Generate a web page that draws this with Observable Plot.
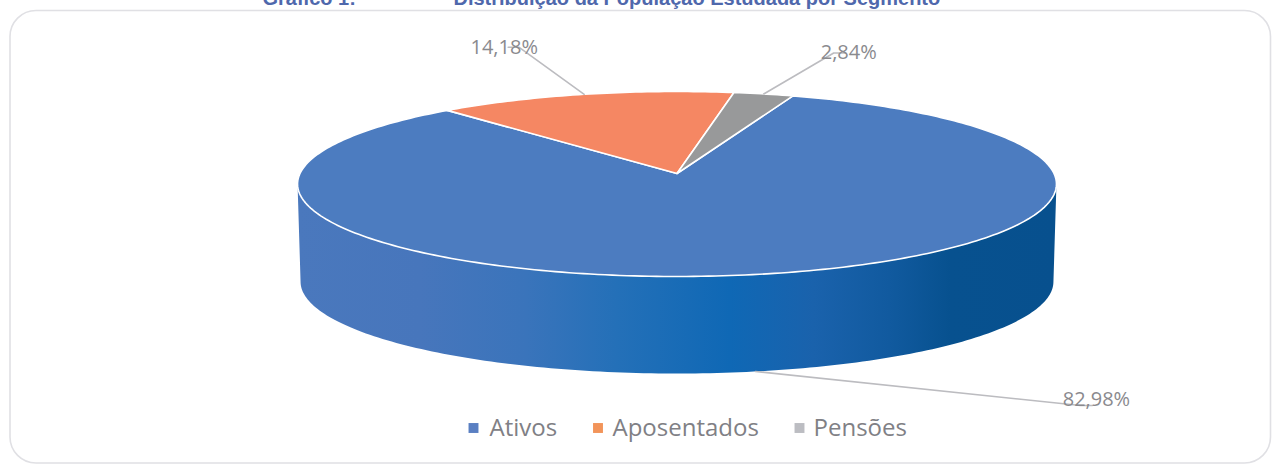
<!DOCTYPE html>
<html lang="pt">
<head>
<meta charset="utf-8">
<script src="https://cdn.jsdelivr.net/npm/d3@7"></script>
<script src="https://cdn.jsdelivr.net/npm/@observablehq/plot@0.6"></script>
<style>
html,body{margin:0;padding:0;background:#fff;overflow:hidden}
svg{display:block}
</style>
</head>
<body>
<div id="chart"></div>
<script>
// Data
const categories = ["Ativos", "Aposentados", "Pensões"];
const shares = [82.98, 14.18, 2.84];
const shareLabels = ["82,98%", "14,18%", "2,84%"];
const sliceColors = ["#4c7cc0", "#f58763", "#98999a"];
const legendColors = ["#5a7fc2", "#f2945a", "#bcbdc2"];
const titleParts = ["Gráfico 1:", "Distribuição da População Estudada por Segmento"];

// Layout of the tilted disc (chart units = pixels of the 1276x466 canvas)
const W = 1276, H = 466;
const startAngle = 19.9, persp = 0.1135;
const topDisc = {cx: 676.5, cy: 173, rx: 377, ry: 91.3};
const baseDisc = {cx: 676.5, cy: 270.8, rx: 374, ry: 90.6};

const rad = d => d * Math.PI / 180;
const project = (disc, deg) => {
  const u = Math.sin(rad(deg)), v = -Math.cos(rad(deg)), d = 1 - persp * v;
  return {x: disc.cx + disc.rx * u / d, y: disc.cy + disc.ry * v / d};
};

// Slices derived from the shares
let acc = startAngle;
const slices = categories.map((name, i) => {
  const a0 = acc, a1 = acc + shares[i] * 3.6;
  acc = a1;
  const n = Math.max(2, Math.ceil(a1 - a0));
  const arc = d3.range(n + 1).map(k => project(topDisc, a0 + (a1 - a0) * k / n));
  return {name, a0, a1, mid: (a0 + a1) / 2, color: sliceColors[i],
          poly: [{x: topDisc.cx, y: topDisc.cy}, ...arc]};
});

// Near wall of the disc, from tangent to tangent
const tangent = Math.acos(-persp) * 180 / Math.PI;
const wallAngles = d3.range(tangent, 360 - tangent + 0.5, 1);
const wall = [
  ...wallAngles.map(a => project(topDisc, a)),
  ...wallAngles.slice().reverse().map(a => project(baseDisc, a))
];

// Leader lines: anchored at each slice's mid angle, elbow and end as offsets
const leaderLayout = [
  {disc: baseDisc, elbow: [325, 34], end: [337, 34], label: [341, 28]},
  {disc: topDisc, elbow: [-65, -47], end: [-76, -47], label: [-80, -47]},
  {disc: topDisc, elbow: [70, -41], end: [82, -41], label: [85, -41]}
];
const leaders = slices.map((s, i) => {
  const p = project(leaderLayout[i].disc, s.mid), L = leaderLayout[i];
  return {i, p, pts: [p, {x: p.x + L.elbow[0], y: p.y + L.elbow[1]}, {x: p.x + L.end[0], y: p.y + L.end[1]}],
          tx: p.x + L.label[0], ty: p.y + L.label[1], anchor: L.label[0] < 0 ? "end" : "start"};
});

// Legend layout
const legendSwatchX = [473, 597.5, 799];
const legendTextX = [489, 612, 813];
const legendY = 428;

const wallStops = [
  [0, "#4a78bd"], [0.16, "#4776bc"], [0.3, "#3a74bb"], [0.42, "#2470b8"],
  [0.57, "#0f68b5"], [0.68, "#1a62ac"], [0.78, "#115a9f"], [0.86, "#07518f"], [1, "#07508e"]
];
const gradientMark = () => {
  const defs = d3.create("svg:defs");
  const g = defs.append("linearGradient").attr("id", "wallGrad")
    .attr("gradientUnits", "userSpaceOnUse")
    .attr("x1", 297).attr("x2", 1056).attr("y1", 0).attr("y2", 0);
  wallStops.forEach(([o, c]) => g.append("stop").attr("offset", o).attr("stop-color", c));
  return defs.node();
};

const sansLabel = "'Open Sans', sans-serif";

const chart = Plot.plot({
  width: W, height: H,
  margin: 0,
  x: {domain: [0, W], range: [0, W], axis: null},
  y: {domain: [0, H], range: [0, H], axis: null},
  style: {background: "#fff", overflow: "hidden"},
  marks: [
    gradientMark,
    Plot.frame({insetLeft: 9.5, insetTop: 10, insetRight: 6, insetBottom: 3.5, rx: 26, stroke: "#e0e0e4", strokeWidth: 1.6, strokeOpacity: 1}),
    Plot.text([titleParts[0]], {x: 262, y: 4, text: d => d, textAnchor: "start", lineAnchor: "bottom", fontFamily: "'Liberation Sans', Arial, sans-serif", fontWeight: 700, fontSize: 20, fill: "#4f68ac"}),
    Plot.text([titleParts[1]], {x: 453, y: 4, text: d => d, textAnchor: "start", lineAnchor: "bottom", fontFamily: "'Liberation Sans', Arial, sans-serif", fontWeight: 700, fontSize: 20, fill: "#4f68ac"}),
    Plot.line(wall, {x: "x", y: "y", curve: "linear-closed", fill: "url(#wallGrad)", stroke: "none"}),
    ...slices.map(s => Plot.line(s.poly, {x: "x", y: "y", curve: "linear-closed", fill: s.color, stroke: "#fff", strokeWidth: 1.6, strokeLinejoin: "round"})),
    ...leaders.map(l => Plot.line(l.pts, {x: "x", y: "y", stroke: "#bcbcc0", strokeWidth: 1.6})),
    Plot.text(leaders, {x: "tx", y: "ty", text: d => shareLabels[d.i], textAnchor: d => d.anchor, fontFamily: sansLabel, fontSize: 20, fill: "#8a8a8e"}),
    Plot.dot(categories, {x: (d, i) => legendSwatchX[i], y: legendY - 0.5, symbol: "square", r: 5.6, fill: {value: (d, i) => legendColors[i], scale: null}, stroke: "none"}),
    Plot.text(categories, {x: (d, i) => legendTextX[i], y: legendY, text: d => d, textAnchor: "start", fontFamily: sansLabel, fontSize: 24, fill: "#808085"})
  ]
});
document.getElementById("chart").append(chart);
</script>
</body>
</html>
